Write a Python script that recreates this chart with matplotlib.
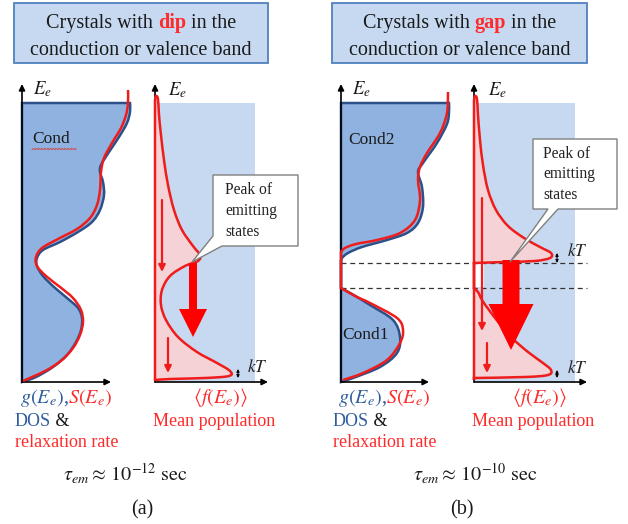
import matplotlib
matplotlib.use("Agg")
import matplotlib.pyplot as plt
from matplotlib.path import Path
from matplotlib.patches import PathPatch, Rectangle, Polygon, FancyArrow
import numpy as np

# ---------------------------------------------------------------- data
# curve nodes are (x, E) pairs in canvas pixels (E grows downward)
dos_a_blue = [(130, 103), (130, 112), (127, 123), (119, 137), (109, 152), (101, 165), (100, 172),
              (103, 182), (104, 195), (100, 210), (92, 222), (78, 232), (60, 242), (43, 250),
              (37, 258), (37, 266), (43, 276), (54, 287), (67, 298), (78, 308), (82, 318),
              (81, 330), (76, 342), (67, 355), (53, 367), (36, 377), (22, 382)]
dos_a_red = [(128, 90), (128, 103), (126, 115), (121, 128), (112, 143), (104, 158), (101, 172),
             (100, 190), (97, 205), (90, 218), (77, 229), (58, 239), (42, 248), (36, 257),
             (37, 266), (46, 276), (60, 287), (73, 298), (81, 310), (83, 322), (80, 335),
             (73, 348), (62, 360), (47, 370), (32, 377), (23, 381)]

dos_b_blue_hi = [(449, 103), (449, 112), (447, 124), (437, 143), (423, 163), (418, 172), (422, 187),
                 (423, 207), (418, 223), (407, 233), (387, 240), (362, 247), (348, 253), (342, 258),
                 (341, 261)]
dos_b_blue_lo = [(341, 288), (352, 294), (370, 305), (393, 320), (400, 337), (397, 353), (380, 367),
                 (353, 378), (341, 382)]
dos_b_red_hi = [(448, 92), (447, 113), (440, 133), (427, 153), (420, 167), (418, 180), (420, 200),
                (415, 220), (400, 233), (377, 240), (356, 244), (345, 248), (341, 252)]
dos_b_red_lo = [(341, 288), (355, 296), (370, 303), (397, 318), (403, 330), (400, 343), (387, 360),
                (363, 373), (343, 380)]

pop_a = [(155, 100), (156, 96), (158, 99), (159, 115), (161, 135), (164, 160), (168, 185), (174, 210),
         (182, 230), (193, 246), (200, 255), (198, 261), (185, 266), (170, 276), (162, 290),
         (161, 305), (166, 320), (178, 337), (197, 352), (217, 363), (230, 371), (229, 376),
         (205, 378), (170, 379), (155, 380)]
pop_b_hi = [(474, 100), (475, 96), (477, 99), (478, 115), (480, 140), (483, 165), (488, 190),
            (496, 210), (508, 226), (524, 238), (540, 247), (551, 253), (550, 258), (535, 261),
            (505, 262), (474, 263)]
pop_b_lo = [(474, 288), (478, 292), (482, 300), (489, 310), (499, 323), (512, 338), (528, 352),
            (543, 363), (551, 370), (548, 375), (525, 377), (474, 378)]

band_word = ["dip", "gap"]
band_names_a = ["Cond"]
band_names_b = ["Cond2", "Cond1"]
tau_exponent = ["-12", "-10"]
panel_tags = ["(a)", "(b)"]
callout_lines = ["Peak of", "emitting", "states"]

# ---------------------------------------------------------------- style
RED = "#f01c1c"
TXT_RED = "#ff2a2a"
BLUE_LINE = "#2c5189"
BLUE_FILL = "#8fb2e0"
BG_BLUE = "#c6d9f0"
PINK = "#f4d2d6"
BOX_FILL = "#c6d9f1"
BOX_EDGE = "#4f81bd"
TXT_BLUE = "#2f5d9e"
SERIF = "Liberation Serif"

plt.rcParams["mathtext.fontset"] = "stix"
fig = plt.figure(figsize=(6.28, 5.24), dpi=100)
ax = fig.add_axes([0, 0, 1, 1])
ax.set_xlim(0, 628)
ax.set_ylim(524, 0)
ax.axis("off")
renderer = fig.canvas.get_renderer()


def smooth(pts):
    """Catmull-Rom nodes -> cubic Bezier vertices/codes (without the MOVETO)."""
    P = np.asarray(pts, float)
    n = len(P)
    verts, codes = [], []
    for i in range(n - 1):
        p0 = P[i - 1] if i > 0 else P[i]
        p1, p2 = P[i], P[i + 1]
        p3 = P[i + 2] if i + 2 < n else P[i + 1]
        verts += [p1 + (p2 - p0) / 6, p2 - (p3 - p1) / 6, p2]
        codes += [Path.CURVE4] * 3
    return verts, codes


def build(pieces, start=None, close=False):
    """Chain smooth pieces with straight joins."""
    verts, codes = [], []
    if start is not None:
        verts.append(start); codes.append(Path.MOVETO)
    for pc in pieces:
        verts.append(pc[0])
        codes.append(Path.LINETO if codes else Path.MOVETO)
        v, c = smooth(pc)
        verts += v; codes += c
    if close:
        verts.append(verts[0]); codes.append(Path.CLOSEPOLY)
    return Path(verts, codes)


def axis_arrow(x0, y0, x1, y1):
    ax.annotate("", xy=(x1, y1), xytext=(x0, y0),
                arrowprops=dict(arrowstyle="-|>", lw=1.2, color="black",
                                mutation_scale=9, shrinkA=0, shrinkB=0), zorder=3)


def width_of(s, **kw):
    t1 = ax.text(0, 0, "|" + s + "|", **kw)
    t2 = ax.text(0, 0, "||", **kw)
    w = t1.get_window_extent(renderer).width - t2.get_window_extent(renderer).width
    t1.remove(); t2.remove()
    return w


def rich(x, y, parts, ha="left", size=14, family=SERIF):
    ws = [width_of(s, fontsize=size, family=family, fontweight=wt) for s, c, wt in parts]
    total = sum(ws)
    cx = x - total / 2 if ha == "center" else x
    for (s, c, wt), w in zip(parts, ws):
        ax.text(cx, y, s, fontsize=size, family=family, fontweight=wt, color=c,
                ha="left", va="baseline", zorder=6)
        cx += w


def callout(x0, y0, x1, y1, notch, tip, tx, ty, dy):
    poly = [(x0, y0), (x1, y0), (x1, y1)] + [notch[1], tip, notch[0]] + [(x0, y1)]
    if notch[0][0] == x0:  # notch starts on the left edge
        poly = [(x0, y0), (x1, y0), (x1, y1), notch[1], tip, notch[0]]
    ax.add_patch(Polygon(poly, closed=True, facecolor="white", edgecolor="#808080", lw=1.0, zorder=7))
    for k, line in enumerate(callout_lines):
        ax.text(tx, ty + k * dy, line, fontsize=11.2, family=SERIF, color="#222222",
                ha="left", va="center", zorder=8)


def kt_mark(x, y0, y1, lx, ly):
    ax.annotate("", xy=(x, y0), xytext=(x, y1),
                arrowprops=dict(arrowstyle="<|-|>", lw=0.8, color="black",
                                mutation_scale=4, shrinkA=0, shrinkB=0), zorder=6)
    ax.text(lx, ly, r"$kT$", fontsize=12.5, color="#222222", ha="left", va="center", zorder=6)


# ---------------------------------------------------------------- title boxes
for (bx0, bx1), word in zip([(14, 268), (332, 587)], band_word):
    ax.add_patch(Rectangle((bx0, 3), bx1 - bx0, 60, facecolor=BOX_FILL, edgecolor=BOX_EDGE, lw=1.3, zorder=2))
    cx = (bx0 + bx1) / 2
    rich(cx, 28, [("Crystals with ", "#1a1a1a", "normal"), (word, TXT_RED, "bold"),
                  (" in the", "#1a1a1a", "normal")], ha="center", size=14.5)
    rich(cx, 55, [("conduction or valence band", "#1a1a1a", "normal")], ha="center", size=14.5)

# ---------------------------------------------------------------- DOS panels
# panel (a)
va_, ca_ = smooth(dos_a_blue)
p_fill_a = Path([(22, 382), (22, 103), dos_a_blue[0]] + va_ + [(22, 382)],
                [Path.MOVETO, Path.LINETO, Path.LINETO] + ca_ + [Path.CLOSEPOLY])
ax.add_patch(PathPatch(p_fill_a, facecolor=BLUE_FILL, edgecolor=BLUE_LINE, lw=1.8, zorder=2))
axis_arrow(22, 382, 22, 84)
axis_arrow(22, 382, 111, 382)
ax.add_patch(PathPatch(build([dos_a_red]), facecolor="none", edgecolor=RED, lw=1.8, zorder=4))
ax.text(32, 139, band_names_a[0], fontsize=12.5, family=SERIF, color="#1a1a1a", ha="left", va="center", zorder=5)
# spell-check squiggle under the band name
sq_x = np.arange(32, 76.1, 1.0)
ax.plot(sq_x, 149 + 0.8 * np.sin(sq_x * 2.2), color="#d04040", lw=0.6, zorder=5)

# panel (b)
vh, ch = smooth(dos_b_blue_hi)
vl, cl = smooth(dos_b_blue_lo)
p_fill_b = Path([(341, 382), (341, 103), dos_b_blue_hi[0]] + vh + [dos_b_blue_lo[0]] + vl + [(341, 382)],
                [Path.MOVETO, Path.LINETO, Path.LINETO] + ch + [Path.LINETO] + cl + [Path.CLOSEPOLY])
ax.add_patch(PathPatch(p_fill_b, facecolor=BLUE_FILL, edgecolor=BLUE_LINE, lw=1.8, zorder=2))
axis_arrow(341, 382, 341, 84)
axis_arrow(341, 382, 429, 382)
ax.add_patch(PathPatch(build([dos_b_red_hi, dos_b_red_lo]), facecolor="none", edgecolor=RED, lw=1.8, zorder=4))
ax.text(348, 140, band_names_b[0], fontsize=12.5, family=SERIF, color="#1a1a1a", ha="left", va="center", zorder=5)
ax.text(342, 335, band_names_b[1], fontsize=12.5, family=SERIF, color="#1a1a1a", ha="left", va="center", zorder=5)

# ---------------------------------------------------------------- population panels
# panel (a)
ax.add_patch(Rectangle((155, 103), 100, 279, facecolor=BG_BLUE, edgecolor="none", zorder=1))
pa = build([pop_a], start=(155, 380), close=True)
ax.add_patch(PathPatch(pa, facecolor=PINK, edgecolor="none", zorder=2))
axis_arrow(155, 382, 155, 84)
axis_arrow(155, 382, 268, 382)
ax.add_patch(PathPatch(pa, facecolor="none", edgecolor=RED, lw=1.8, zorder=4))

# panel (b)
ax.add_patch(Rectangle((474, 103), 101, 279, facecolor=BG_BLUE, edgecolor="none", zorder=1))
pb = build([pop_b_hi, pop_b_lo], start=(474, 380), close=True)
ax.add_patch(PathPatch(pb, facecolor=PINK, edgecolor="none", zorder=2))
ax.add_patch(Rectangle((475, 264), 9, 23, facecolor="white", edgecolor="none", zorder=2.5))
axis_arrow(474, 382, 474, 84)
axis_arrow(474, 382, 587, 382)
ax.add_patch(PathPatch(pb, facecolor="none", edgecolor=RED, lw=1.8, zorder=4))

# gap edges
for yy in (263, 288):
    ax.plot([341, 587], [yy, yy], ls=(0, (4, 3)), color="#333333", lw=0.9, zorder=3)


# relaxation arrows
def thin_arrow(x, y0, y1):
    ax.annotate("", xy=(x, y1), xytext=(x, y0),
                arrowprops=dict(arrowstyle="-|>", lw=1.6, color=RED,
                                mutation_scale=10, shrinkA=0, shrinkB=0), zorder=5)


thin_arrow(162, 200, 272)
thin_arrow(168, 338, 373)
thin_arrow(482, 198, 331)
thin_arrow(487, 343, 373)
ax.add_patch(FancyArrow(193, 263, 0, 74, width=8, head_width=28, head_length=28,
                        length_includes_head=True, color="#ff0000", lw=0, zorder=5))
ax.add_patch(FancyArrow(511, 260, 0, 90, width=17, head_width=45, head_length=46,
                        length_includes_head=True, color="#ff0000", lw=0, zorder=5))

callout(213, 175, 298, 246, [(213, 236), (222, 246)], (192, 262), 225, 190, 21)
callout(533, 139, 617, 209, [(548, 209), (558, 209)], (510, 262), 543, 154, 20.5)

kt_mark(238, 369, 378, 247, 367)
kt_mark(557, 253, 263, 567, 251)
kt_mark(557, 370, 378, 567, 368)

# axis labels E_e
for x, y in [(33, 89), (168, 90), (352, 89), (488, 90)]:
    ax.text(x, y, r"$E_e$", fontsize=13.5, color="#1a1a1a", ha="left", va="center", zorder=6)

# ---------------------------------------------------------------- bottom captions
for x0, xf, xm, xt, xtau, tag_x, exp, tag in [(20, 193, 153, 15, 63, 142, tau_exponent[0], panel_tags[0]),
                                               (338, 512, 472, 333, 413, 462, tau_exponent[1], panel_tags[1])]:
    rich(x0, 403, [(r"$g(E_e)$", TXT_BLUE, "normal"), (",", TXT_BLUE, "normal"),
                   (r"$S(E_e)$", TXT_RED, "normal")], size=14.5)
    rich(xf, 403, [(r"$\langle f(E_e)\rangle$", TXT_RED, "normal")], size=14.5)
    rich(xt, 426, [("DOS", TXT_BLUE, "normal"), (" &", "#1a1a1a", "normal")], size=13)
    rich(xt, 447, [("relaxation rate", TXT_RED, "normal")], size=13)
    rich(xm, 426, [("Mean population", TXT_RED, "normal")], size=13)
    rich(xtau, 481, [(r"$\tau_{em}\approx\,10^{" + exp + r"}\ \mathrm{sec}$", "#1a1a1a", "normal")], size=14.5)
    ax.text(tag_x, 510, tag, fontsize=14.5, family=SERIF, color="#1a1a1a", ha="center", va="center")

fig.savefig("out.png", dpi=100)
